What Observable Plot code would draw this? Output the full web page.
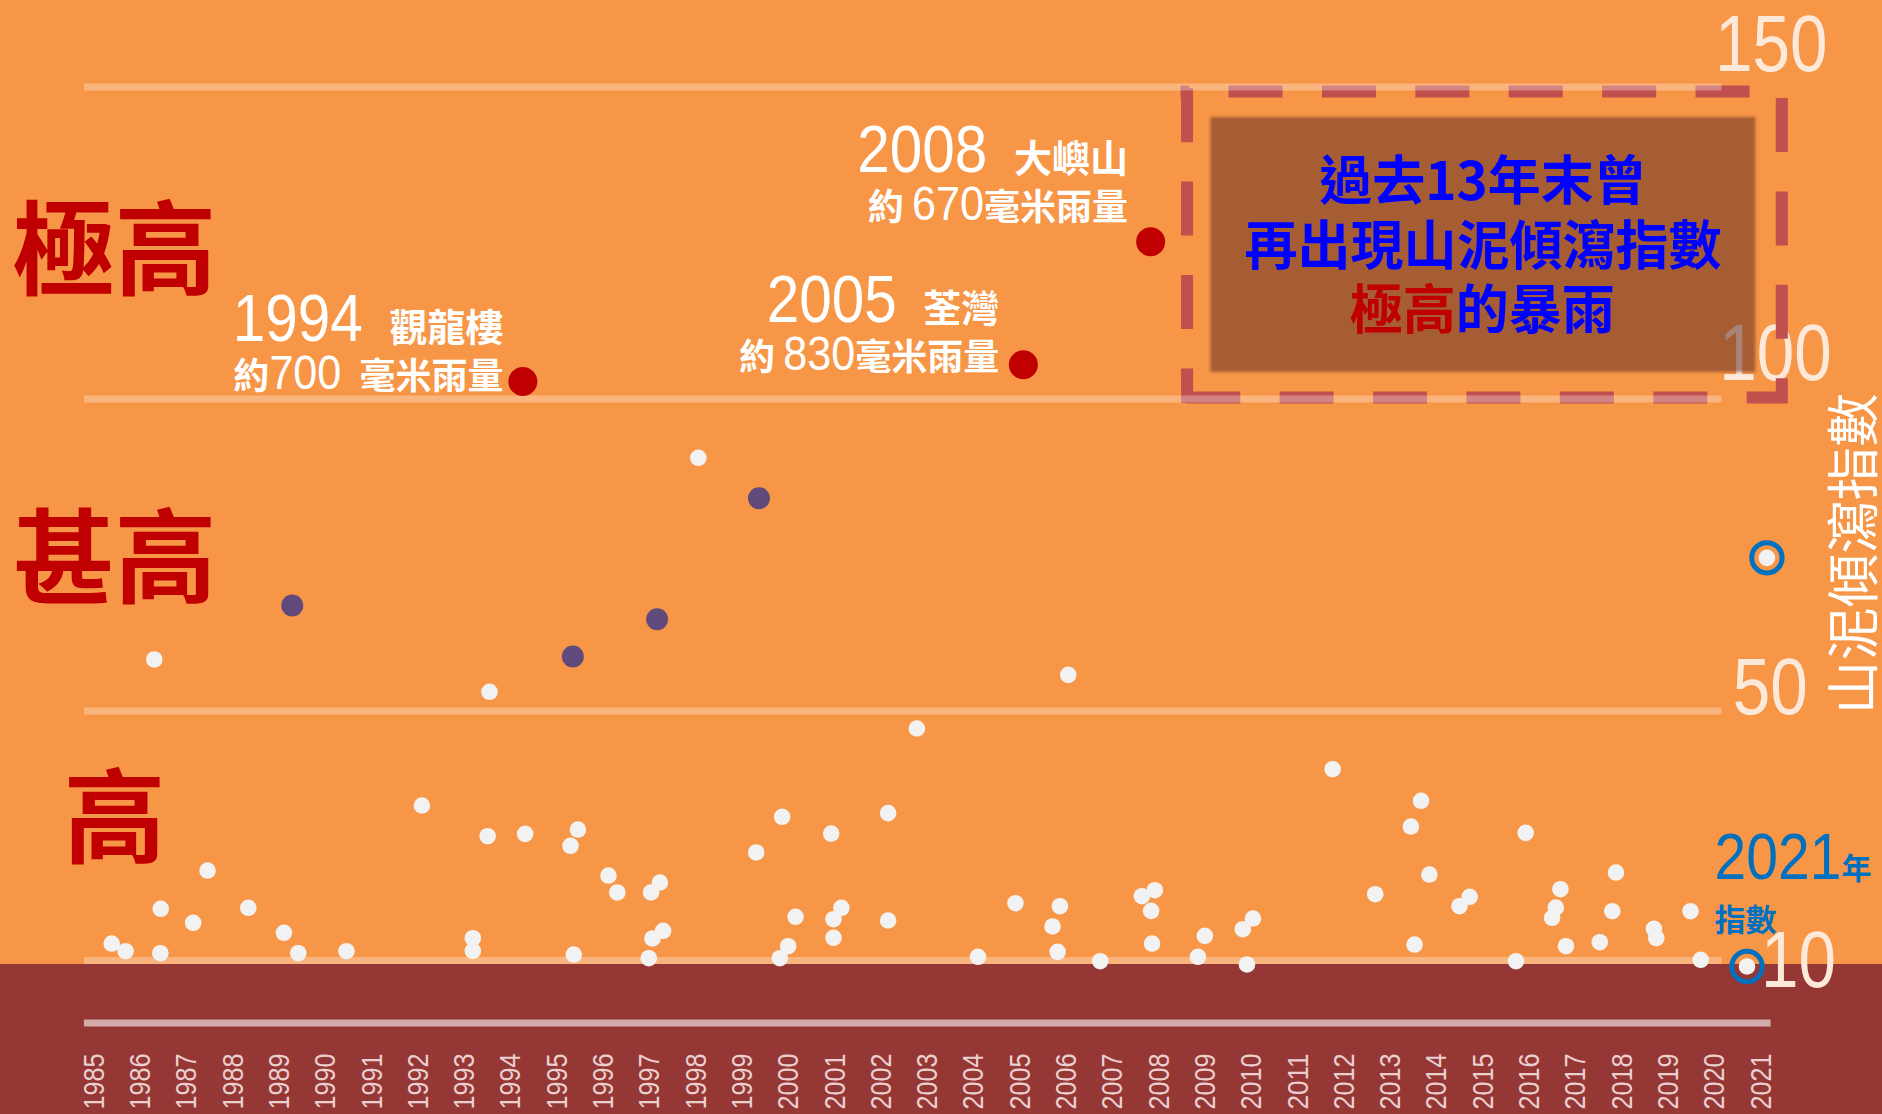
<!DOCTYPE html>
<html>
<head>
<meta charset="utf-8">
<script src="https://cdn.jsdelivr.net/npm/d3@7"></script>
<script src="https://cdn.jsdelivr.net/npm/@observablehq/plot@0.6"></script>
<style>
html, body { margin: 0; padding: 0; background: #F79646; }
#chart svg { display: block; }
</style>
</head>
<body>
<div id="chart"></div>
<script>
// ---------- data ----------
const years = d3.range(1985, 2022);           // x tick labels
const gridValues = [150, 100, 50, 10];        // y gridlines / tick labels

// ordinary rainstorms (white dots): decimal year, landslide index
const ordinaryYear = [1985.38,1985.68,1986.30,1986.44,1986.43,1987.14,1987.45,1988.33,1989.10,1989.41,
  1990.45,1992.08,1993.18,1993.18,1993.54,1993.50,1994.31,1995.45,1995.29,1995.36,
  1996.11,1996.30,1997.22,1997.03,1997.29,1997.06,1996.98,1998.05,1999.30,1999.86,
  2000.15,1999.99,1999.81,2000.92,2001.14,2000.97,2000.97,2002.15,2002.15,2002.77,
  2004.09,2004.90,2006.04,2005.86,2005.70,2005.81,2006.73,2007.63,2007.91,2007.83,
  2007.85,2008.99,2008.84,2010.03,2009.81,2009.90,2011.75,2012.67,2013.66,2013.44,
  2013.52,2013.84,2014.71,2014.49,2015.71,2015.92,2016.67,2016.57,2016.49,2016.79,
  2017.87,2017.79,2017.52,2018.69,2018.74,2019.48,2019.70];
const ordinaryIndex = [12.72,11.49,58.24,18.29,11.17,16.04,24.42,18.45,14.44,11.17,
  11.49,34.84,13.57,11.56,53.06,29.92,30.30,30.99,28.38,10.96,
  23.62,20.90,22.50,20.90,14.76,13.53,10.37,90.56,27.31,33.03,
  17.00,12.29,10.37,30.35,18.45,16.62,13.64,33.61,16.41,47.18,
  10.59,19.18,55.78,18.70,15.45,11.39,9.89,20.30,21.27,17.96,
  12.72,13.96,10.59,16.73,15.01,9.36,40.66,20.62,35.59,31.47,
  12.56,23.78,20.21,18.70,9.89,30.46,21.43,18.49,16.84,12.29,
  24.10,17.90,12.93,15.08,13.57,17.90,10.11];

// "very high" rainstorms (purple)
const severeYear  = [1989.28, 1995.34, 1997.16, 1999.36];
const severeIndex = [66.89, 58.72, 64.70, 84.09];

// "extremely high" rainstorms (red)
const extremeYear  = [1994.26, 2005.07, 2007.82];
const extremeIndex = [102.79, 105.46, 125.18];
const extremeLabel = ["1994\u2002\u2009觀龍樓", "2005\u2002\u2009荃灣", "2008\u2002\u2009大嶼山"];
const extremeRain  = ["約700\u2002毫米雨量", "約 830毫米雨量", "約 670毫米雨量"];
const extremeLabelYear  = [1993.84, 2004.55, 2007.33];   // label anchor (text end)
const extremeLabelIndex = [101.51, 104.71, 128.75];      // label anchor (2nd line baseline)

// 2021 (blue rings)
const latestYear  = [2021.13, 2020.70];
const latestIndex = [74.53, 9.04];

// zone labels
const zoneLabel = ["極高", "甚高", "高"];
const zoneIndex = [124.1, 74.7, 33.1];

// note box: 2008 → 2021, index 100 → 150
const noteBox   = [{x1: 2009.12, x2: 2020.89, y1: 104.23, y2: 145.10}];
const noteLines = ["過去13年末曾", "再出現山泥傾瀉指數"];
const noteLineIndex = [131.8, 121.4];

// ---------- tables ----------
const ordinary = ordinaryYear.map((x, i) => ({x, y: ordinaryIndex[i]}));
const severe   = severeYear.map((x, i) => ({x, y: severeIndex[i]}));
const extreme  = extremeYear.map((x, i) => ({x, y: extremeIndex[i], label: extremeLabel[i], rain: extremeRain[i], lx: extremeLabelYear[i], ly: extremeLabelIndex[i]}));
const latest   = latestYear.map((x, i) => ({x, y: latestIndex[i]}));
const zones    = zoneLabel.map((t, i) => ({t, y: zoneIndex[i]}));
const notes    = noteLines.map((t, i) => ({t, y: noteLineIndex[i]}));

const LIB = '"Liberation Sans", Arimo, Arial, sans-serif';
const CJK = '"Noto Sans CJK TC", "Noto Sans CJK SC", sans-serif';
const DASH = {stroke: "#C0504D", strokeWidth: 12, strokeDasharray: "54,39.4"};

const yTick = (v, x, dy) => Plot.text([v], {
  x: x, y: d => d, text: d => String(d), dy,
  textAnchor: "end", lineAnchor: "bottom",
  fontSize: 79, fontFamily: LIB, fill: "#FDE9D9", ariaDescription: "cond-tick"
});

const chart = Plot.plot({
  width: 1882, height: 1114,
  marginLeft: 93.6, marginRight: 121.6, marginTop: 86.4, marginBottom: 91.6,
  style: {
    background: "linear-gradient(to bottom, #F79646 0px, #F79646 964px, #953735 964px, #953735 100%)",
    overflow: "visible"
  },
  x: {domain: [1985, 2021]},
  y: {domain: [0, 150], axis: null},
  marks: [
    // y tick labels
    yTick(150, 2022.44, -16.4),
    yTick(100, 2022.53, -19.4),
    yTick(50, 2022.01, 2.6),
    yTick(10, 2022.62, 26),

    // dashed note frame (four edges)
    Plot.ruleY([149.263], {x1: 2008.476, x2: 2021.580, ...DASH, strokeDashoffset: 45.4}),
    Plot.ruleX([2021.451], {y1: 150.224, y2: 99.263, ...DASH, strokeDashoffset: 80.4}),
    Plot.ruleY([100.224], {x1: 2021.580, x2: 2008.476, ...DASH, strokeDashoffset: 13.4}),
    Plot.ruleX([2008.606], {y1: 99.263, y2: 150.224, ...DASH, strokeDashoffset: 19.4}),
    // note box
    Plot.rect(noteBox, {x1: "x1", x2: "x2", y1: "y1", y2: "y2", fill: "#643027", fillOpacity: 0.55,
      imageFilter: "blur(1.5px)"}),

    // gridlines
    Plot.ruleY(gridValues, {x1: 1984.79, x2: 2020.16, stroke: "white", strokeOpacity: 0.3, strokeWidth: 7}),
    Plot.ruleY([0], {x1: 1984.79, x2: 2021.22, stroke: "white", strokeOpacity: 0.58, strokeWidth: 7}),

    // x axis labels
    Plot.axisX({ticks: years, tickFormat: d => String(d), tickRotate: -90, tickSize: 0, tickPadding: 30.6,
      fontSize: 30, fontFamily: LIB, fill: "#EBCFCF", label: null}),

    // dots
    Plot.dot(ordinary, {x: "x", y: "y", r: 8.3, fill: "#F2F2F2"}),
    Plot.dot(severe, {x: "x", y: "y", r: 11, fill: "#604A7B"}),
    Plot.dot(extreme, {x: "x", y: "y", r: 14.5, fill: "#C00000"}),
    Plot.dot(latest, {x: "x", y: "y", r: 8.3, fill: "#F2F2F2"}),
    Plot.dot(latest, {x: "x", y: "y", r: 15.2, fill: "none", stroke: "#0070C0", strokeWidth: 5}),

    // zone labels
    Plot.text(zones, {x: 1985.44, y: "y", text: "t", dy: 6, textAnchor: "middle", lineAnchor: "middle",
      fontSize: 102, fontWeight: "bold", fontFamily: CJK, fill: "#C00000"}),

    // extreme-event annotations
    Plot.text(extreme, {x: "lx", y: "ly", text: "label", dy: -48, textAnchor: "end", lineAnchor: "bottom",
      fontSize: 38, fontWeight: "bold", fontFamily: CJK, fill: "white", ariaDescription: "cond-year"}),
    Plot.text(extreme, {x: "lx", y: "ly", text: "rain", textAnchor: "end", lineAnchor: "bottom",
      fontSize: 36, fontWeight: "bold", fontFamily: CJK, fill: "white", ariaDescription: "cond-rain"}),

    // note text
    Plot.text(notes, {x: 2015.0, y: "y", text: "t", textAnchor: "middle", lineAnchor: "bottom",
      fontSize: 53, fontWeight: "bold", fontFamily: CJK, fill: "#0000FF"}),
    Plot.text(["極高"], {x: 2014.41, y: 111.28, textAnchor: "end", lineAnchor: "bottom",
      fontSize: 53, fontWeight: "bold", fontFamily: CJK, fill: "#C00000"}),
    Plot.text(["的暴雨"], {x: 2014.41, y: 111.28, textAnchor: "start", lineAnchor: "bottom",
      fontSize: 53, fontWeight: "bold", fontFamily: CJK, fill: "#0000FF"}),

    // 2021 label
    Plot.text(["2021年"], {x: 2020.0, y: 23.14, textAnchor: "start", lineAnchor: "bottom",
      fontSize: 30, fontWeight: "bold", fontFamily: CJK, fill: "#0070C0", ariaDescription: "cond-blue"}),
    Plot.text(["指數"], {x: 2020.0, y: 14.65, textAnchor: "start", lineAnchor: "bottom",
      fontSize: 31, fontWeight: "bold", fontFamily: CJK, fill: "#0070C0"}),

    // y axis title
    Plot.text(["山泥傾瀉指數"], {x: 2023.05, y: 75.2, rotate: -90, textAnchor: "middle", lineAnchor: "middle",
      fontSize: 53.5, fontFamily: CJK, fill: "white"})
  ]
});
document.getElementById("chart").appendChild(chart);

// Condensed digits: put digit runs in their own tspan, sized and narrowed (like a narrow face)
function condense(selector, digitSize, digitAdvance) {
  d3.select(chart).selectAll(selector).selectAll("text").each(function () {
    const s = this.textContent;
    this.textContent = "";
    for (const m of s.matchAll(/(\d+)|(\D+)/g)) {
      const ts = document.createElementNS("http://www.w3.org/2000/svg", "tspan");
      ts.textContent = m[0];
      if (m[1]) {
        ts.setAttribute("font-family", LIB);
        ts.setAttribute("font-size", digitSize);
        ts.setAttribute("font-weight", "normal");
        ts.setAttribute("textLength", m[0].length * digitAdvance);
        ts.setAttribute("lengthAdjust", "spacingAndGlyphs");
      }
      this.appendChild(ts);
    }
  });
}
condense('g[aria-description="cond-tick"]', 79, 37.5);
condense('g[aria-label="x-axis tick label"]', 30, 14);
condense('g[aria-description="cond-year"]', 66, 32.5);
condense('g[aria-description="cond-rain"]', 48, 24);
condense('g[aria-description="cond-blue"]', 64, 31.7);
</script>
</body>
</html>
